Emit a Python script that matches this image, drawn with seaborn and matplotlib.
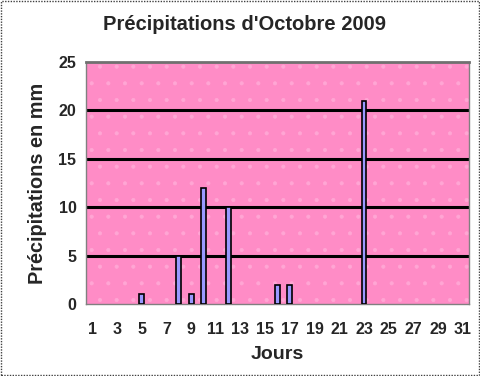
import numpy as np
import pandas as pd
import matplotlib
matplotlib.use('Agg')
import matplotlib.pyplot as plt
import seaborn as sns
from matplotlib.patches import Rectangle

# rainy days only, other days of October are 0 mm
days   = [5, 8, 9, 10, 12, 16, 17, 23]
precip = [1, 5, 1, 12, 10, 2, 2, 21]
all_days = list(range(1, 32))
yticks = [0, 5, 10, 15, 20, 25]

df = pd.DataFrame({'jour': days, 'mm': precip})

sns.set_style('white')
plt.rcParams['font.family'] = ['Liberation Sans', 'DejaVu Sans']

fig = plt.figure(figsize=(4.81, 3.76), dpi=100)
ax = fig.add_axes([0.179, 0.191, 0.796, 0.644])
ax.set_facecolor('#FF8CC6')

sns.barplot(data=df, x='jour', y='mm', order=all_days, color='#9999FF',
            saturation=1, width=0.4, edgecolor='black', linewidth=1.2, ax=ax, zorder=3)

# faint dotted texture of the plot area
plt.rcParams['hatch.linewidth'] = 0.5
ax.add_patch(Rectangle((0, 0), 1, 1, transform=ax.transAxes, facecolor='none',
                       edgecolor='#FFA6D4', hatch='.', linewidth=0, zorder=0))

for v in yticks[1:-1]:
    ax.axhline(v, color='black', linewidth=2.2, zorder=2)

ax.set_xlim(-0.5, 30.5)
ax.set_ylim(0, 25)
ax.set_yticks(yticks)
ax.set_xticks(range(len(all_days)))
ax.set_xticklabels([str(d) if d % 2 == 1 else '' for d in all_days])
ax.set_xticks(np.arange(-0.5, 31, 1), minor=True)
ax.tick_params(axis='x', which='major', length=0, pad=13)
ax.tick_params(axis='x', which='minor', length=4, width=0.8, color='#808080', direction='out')
ax.tick_params(axis='y', length=4, width=0.8, color='#808080', direction='out', pad=3)
for lab in ax.get_xticklabels() + ax.get_yticklabels():
    lab.set_fontsize(11.5)
    lab.set_fontweight('bold')

for s in ['left', 'bottom', 'right']:
    ax.spines[s].set_color('#808080')
    ax.spines[s].set_linewidth(1)
ax.spines['top'].set_color('#707070')
ax.spines['top'].set_linewidth(2)

ax.set_xlabel('Jours', fontsize=14, fontweight='bold', labelpad=6)
ax.set_ylabel('Précipitations en mm', fontsize=14.3, fontweight='bold', labelpad=8)
fig.text(0.508, 0.935, "Précipitations d'Octobre 2009", ha='center', va='center',
         fontsize=14.5, fontweight='bold')

fig.patches.append(Rectangle((0.002, 0.003), 0.994, 0.994, transform=fig.transFigure,
                             fill=False, edgecolor='#404040', linestyle=(0, (1, 1)),
                             linewidth=1))

plt.savefig('out.png', dpi=100)
plt.close()
